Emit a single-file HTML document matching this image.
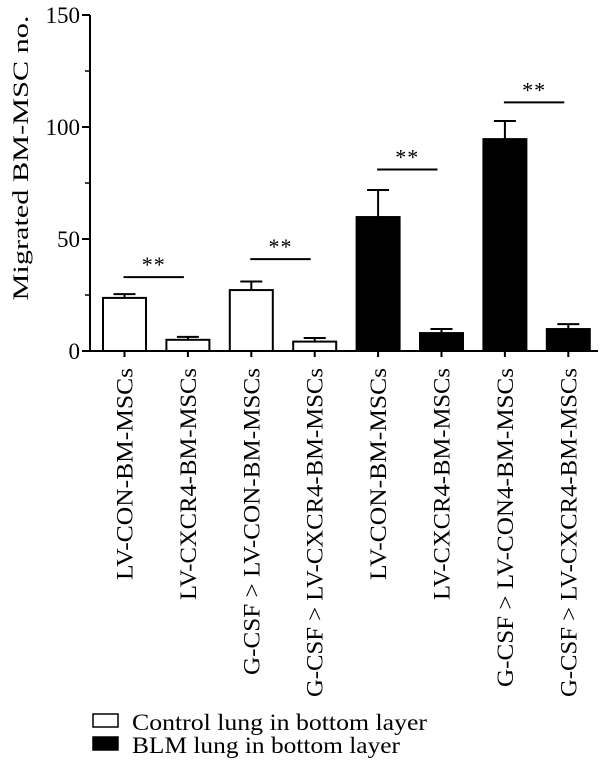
<!DOCTYPE html>
<html><head><meta charset="utf-8"><style>
body{margin:0;background:#fff}
svg text{font-family:"Liberation Serif",serif;fill:#000}
</style></head><body>
<svg id="chart" width="600" height="764" xmlns="http://www.w3.org/2000/svg"></svg>
<script>
const categories=["LV-CON-BM-MSCs","LV-CXCR4-BM-MSCs","G-CSF > LV-CON-BM-MSCs","G-CSF > LV-CXCR4-BM-MSCs","LV-CON-BM-MSCs","LV-CXCR4-BM-MSCs","G-CSF > LV-CON4-BM-MSCs","G-CSF > LV-CXCR4-BM-MSCs"];
const values=[23.7,5,27.2,4.2,59.8,8,94.6,9.8];
const errors=[1.7,1.3,3.8,1.6,12.1,1.8,8.1,2.2];
const groups=[0,0,0,0,1,1,1,1];
const yTicks=[0,50,100,150];
const minorTicks=[25,75,125];
const sigPairs=[[0,1],[2,3],[4,5],[6,7]];
const sigLevels=[33,41,81,111];
const legendLabels=["Control lung in bottom layer","BLM lung in bottom layer"];
const labelLengths=[212,232,307,329,212,232,319,329];

const svg=document.getElementById('chart');
const NS="http://www.w3.org/2000/svg";
const y0=351,yTop=15,yMax=150,x0=90,step=63.4,first=124.5,bw=43;
const ys=v=>y0-(v/yMax)*(y0-yTop);
const xs=i=>first+i*step;
function mk(tag,attrs,parent){const e=document.createElementNS(NS,tag);for(const k in attrs)e.setAttribute(k,attrs[k]);(parent||svg).appendChild(e);return e;}

// axes
let ax=mk('line',{x1:x0,y1:yTop,x2:x0,y2:y0,stroke:'#000','stroke-width':2});


let bx=mk('line',{x1:x0,y1:y0,x2:598,y2:y0,stroke:'#000','stroke-width':2});


yTicks.forEach(t=>{
  mk('line',{x1:x0-8,y1:ys(t),x2:x0,y2:ys(t),stroke:'#000','stroke-width':2});
  const tx=mk('text',{x:x0-10,y:ys(t)+8,'text-anchor':'end','font-size':23});
  tx.textContent=t;
  
  
});
minorTicks.forEach(t=>{mk('line',{x1:x0-5,y1:ys(t),x2:x0,y2:ys(t),stroke:'#000','stroke-width':1.5});});
const yt=mk('text',{x:0,y:0,'text-anchor':'middle','font-size':22,transform:'translate(28,158) rotate(-90)',textLength:285,lengthAdjust:'spacingAndGlyphs'});
yt.textContent="Migrated BM-MSC no.";



values.forEach((v,i)=>{
  const cx=xs(i);
  const fill=groups[i]?'#000':'#fff';
  const et=ys(v+errors[i]);
  mk('line',{x1:cx,y1:ys(v),x2:cx,y2:et,stroke:'#000','stroke-width':2});
  mk('line',{x1:cx-11,y1:et,x2:cx+11,y2:et,stroke:'#000','stroke-width':2});
  const r=mk('rect',{x:cx-bw/2,y:ys(v),width:bw,height:y0-ys(v),fill:fill,stroke:'#000','stroke-width':2});
  
  
  mk('line',{x1:cx,y1:y0,x2:cx,y2:y0+6,stroke:'#000','stroke-width':2});
  const lt=mk('text',{x:0,y:0,'text-anchor':'end','font-size':23,transform:`translate(${cx+8},368) rotate(-90)`,textLength:labelLengths[i],lengthAdjust:'spacingAndGlyphs'});
  lt.textContent=categories[i];
  
  
});

sigPairs.forEach((p,k)=>{
  const a=xs(p[0])-1,b=xs(p[1])-4,yy=ys(sigLevels[k]);
  const l=mk('line',{x1:a,y1:yy,x2:b,y2:yy,stroke:'#000','stroke-width':2});
  
  
  const s=mk('text',{x:(a+b)/2,y:yy-5,'text-anchor':'middle','font-size':22,'letter-spacing':1});
  s.textContent="**";
  
  
});

legendLabels.forEach((t,i)=>{
  const yb=714+i*23;
  const r=mk('rect',{x:93,y:yb,width:25,height:13,fill:i?'#000':'#fff',stroke:'#000','stroke-width':1.5});
  
  
  const tx=mk('text',{x:132,y:yb+16,'font-size':23,textLength:i?268:295,lengthAdjust:'spacingAndGlyphs'});
  tx.textContent=t;
  
  
});
</script>
</body></html>
